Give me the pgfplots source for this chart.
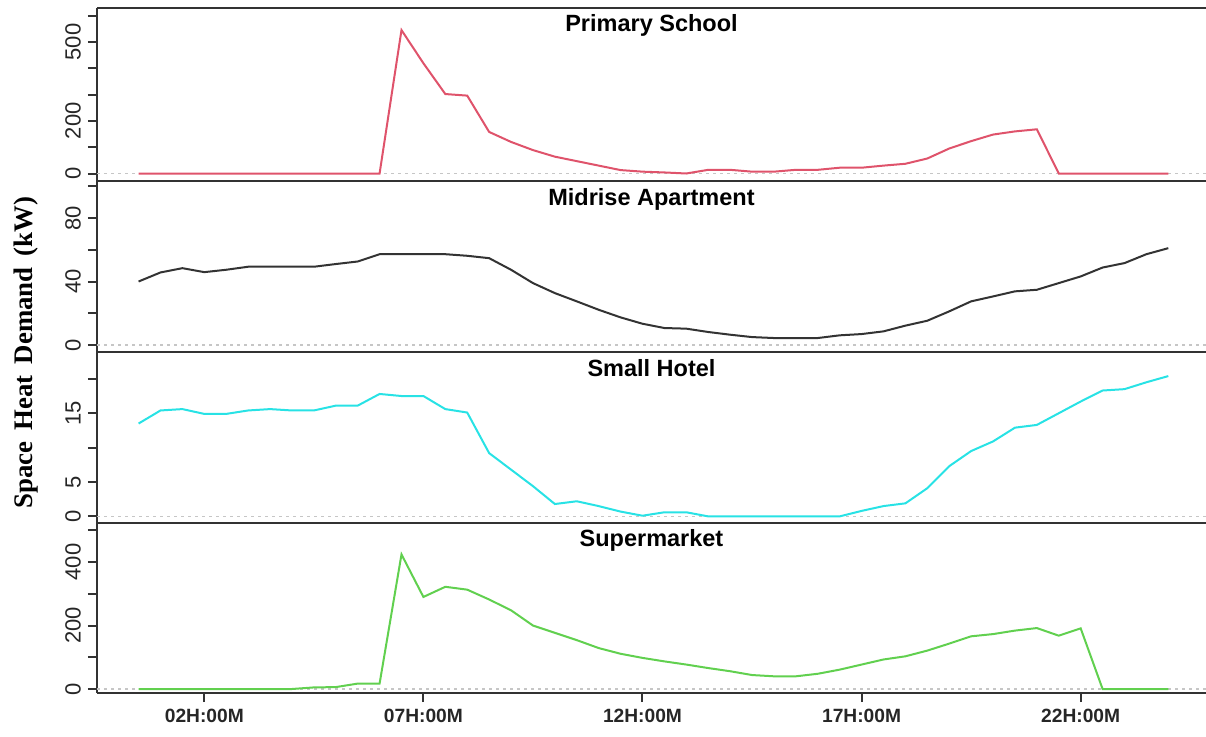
\documentclass[border=0pt]{standalone}
\usepackage{pgfplots}
\pgfplotsset{compat=1.18}
\usepackage{pgfplotstable}
\usepackage{fontspec}
\setmainfont{Liberation Sans}
\newfontfamily\labelfont{Liberation Serif}

\definecolor{school}{HTML}{DF536B}
\definecolor{apt}{HTML}{333333}
\definecolor{hotel}{HTML}{28E2E5}
\definecolor{market}{HTML}{61D04F}

% hour, then demand (kW) of each building
\pgfplotstableread{
h    school apt  hotel market
0.5  0    40.0 13.5 0
1.0  0    45.7 15.4 0
1.5  0    48.4 15.6 0
2.0  0    45.9 14.9 0
2.5  0    47.4 14.9 0
3.0  0    49.3 15.4 0
3.5  0    49.3 15.6 0
4.0  0    49.3 15.4 0
4.5  0    49.3 15.4 5
5.0  0    51.0 16.1 6
5.5  0    52.6 16.1 17
6.0  0    57.2 17.8 17
6.5  545  57.2 17.5 424
7.0  419  57.2 17.5 290
7.5  302  57.2 15.6 322
8.0  296  56.2 15.1 313
8.5  158  54.7 9.2  282
9.0  120  47.4 6.8  248
9.5  89   39.0 4.4  200
10.0 64   32.7 1.8  177
10.5 47   27.5 2.2  154
11.0 30   22.2 1.5  129
11.5 13   17.4 0.7  111
12.0 7    13.4 0.1  98
12.5 4    10.7 0.6  87
13.0 0    10.3 0.6  77
13.5 14   8.2  0.0  66
14.0 14   6.5  0.0  56
14.5 7    5.0  0.0  44
15.0 7    4.4  0.0  40
15.5 14   4.4  0.0  40
16.0 14   4.4  0.0  48
16.5 22   6.1  0.0  61
17.0 22   6.9  0.8  77
17.5 30   8.6  1.5  93
18.0 37   12.2 1.9  103
18.5 57   15.3 4.1  121
19.0 95   21.2 7.3  143
19.5 123  27.5 9.5  166
20.0 148  30.6 10.9 173
20.5 160  33.8 12.9 184
21.0 168  34.8 13.3 192
21.5 0    39.0 15.0 168
22.0 0    43.2 16.7 191
22.5 0    48.8 18.3 0
23.0 0    51.6 18.5 0
23.5 0    57.2 19.5 0
24.0 0    61.0 20.4 0
}\demand

\tikzset{
  zeroline/.style={gray!45, line width=0.8pt, dash pattern=on 1.5pt off 2pt},
  ptitle/.style={anchor=base, font=\bfseries\fontsize{11.75}{14}\selectfont},
}

\pgfplotsset{
  panel/.style={
    scale only axis, width=554.5pt, anchor=south west,
    xmin=-0.449, xmax=24.86,
    axis x line=box, axis y line=left,
    axis line style={-, line width=1.1pt, draw=black!80},
    tick align=outside, ytick pos=left, xtick pos=bottom,
    major tick length=4.5pt,
    tick style={line width=1pt, draw=black!80},
    xtick=\empty,
    yticklabel style={rotate=90, anchor=south, font=\fontsize{11}{13}\selectfont, text=black!85},
    every axis plot/.append style={line width=1pt, no markers},
    /pgf/number format/assume math mode=true,
  },
}

\begin{document}
\begin{tikzpicture}
\path[use as bounding box] (0,0) rectangle (603pt,368pt);

\begin{axis}[panel, at={(48.5pt,277.5pt)}, height=86.5pt,
  ymin=-28.5, ymax=629,
  ytick={0,100,...,600}, yticklabels={0,{},200,{},{},500,{}}]
  \draw[zeroline] ({rel axis cs:0,0}|-{axis cs:0,0}) -- ({rel axis cs:1,0}|-{axis cs:0,0});
  \addplot[school] table[x=h, y=school] {\demand};
  \node[ptitle] at (rel axis cs:0.5,1) [yshift=-12pt] {Primary School};
\end{axis}

\begin{axis}[panel, at={(48.5pt,192pt)}, height=85.5pt,
  ymin=-4.4, ymax=103.3,
  ytick={0,20,...,100}, yticklabels={0,{},40,{},80,{}}]
  \draw[zeroline] ({rel axis cs:0,0}|-{axis cs:0,0}) -- ({rel axis cs:1,0}|-{axis cs:0,0});
  \addplot[apt] table[x=h, y=apt] {\demand};
  \node[ptitle] at (rel axis cs:0.5,1) [yshift=-12pt] {Midrise Apartment};
\end{axis}

\begin{axis}[panel, at={(48.5pt,106.5pt)}, height=85.5pt,
  ymin=-0.96, ymax=23.9,
  ytick={0,5,...,20}, yticklabels={0,5,{},15,{}}]
  \draw[zeroline] ({rel axis cs:0,0}|-{axis cs:0,0}) -- ({rel axis cs:1,0}|-{axis cs:0,0});
  \addplot[hotel] table[x=h, y=hotel] {\demand};
  \node[ptitle] at (rel axis cs:0.5,1) [yshift=-12pt] {Small Hotel};
\end{axis}

\begin{axis}[panel, at={(48.5pt,21.5pt)}, height=85pt,
  ymin=-12.6, ymax=523,
  ytick={0,100,...,500}, yticklabels={0,{},200,{},400,{}},
  xtick={2,7,12,17,22},
  xticklabels={02H:00M,07H:00M,12H:00M,17H:00M,22H:00M},
  xticklabel style={font=\bfseries\fontsize{9.6}{11}\selectfont, text=black!85}]
  \draw[zeroline] ({rel axis cs:0,0}|-{axis cs:0,0}) -- ({rel axis cs:1,0}|-{axis cs:0,0});
  \addplot[market] table[x=h, y=market] {\demand};
  \node[ptitle] at (rel axis cs:0.5,1) [yshift=-12pt] {Supermarket};
\end{axis}

\node[rotate=90, anchor=base, font=\labelfont\bfseries\fontsize{13.4}{15}\selectfont]
  at (16.5pt,191.75pt) {Space\, Heat\, Demand\, (kW)};
\end{tikzpicture}
\end{document}
